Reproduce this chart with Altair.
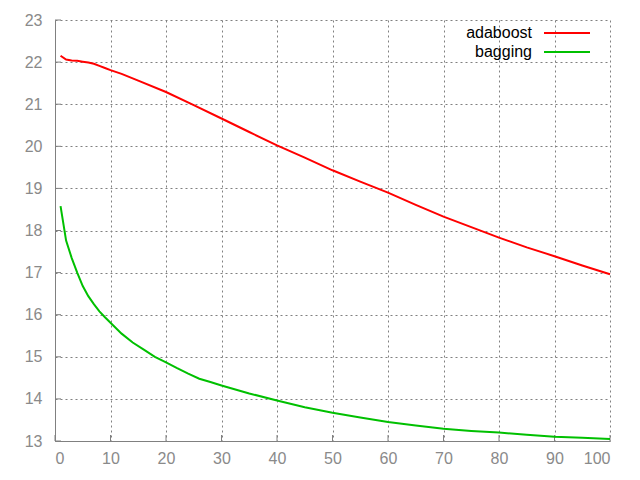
import altair as alt
import pandas as pd

# Series values
ada_x = [1, 2, 3, 4, 5, 6, 7, 8, 9, 10, 12, 15, 20, 25, 30, 35, 40, 45, 50, 55, 60, 65, 70, 75, 80, 85, 90, 95, 100]
ada_y = [22.15, 22.06, 22.04, 22.03, 22.01, 21.99, 21.96, 21.91, 21.86, 21.81, 21.72, 21.56, 21.29, 20.98, 20.66,
         20.34, 20.02, 19.73, 19.43, 19.16, 18.90, 18.61, 18.33, 18.08, 17.83, 17.60, 17.39, 17.17, 16.96]

bag_x = [1, 2, 3, 4, 5, 6, 7, 8, 9, 10, 12, 14, 16, 18, 20, 22, 24, 26, 28, 30, 35, 40, 45, 50, 55, 60, 65, 70,
         75, 80, 85, 90, 95, 100]
bag_y = [18.58, 17.76, 17.35, 17.00, 16.68, 16.44, 16.25, 16.08, 15.94, 15.81, 15.55, 15.34, 15.17, 15.00, 14.87,
         14.73, 14.60, 14.48, 14.40, 14.32, 14.13, 13.96, 13.80, 13.67, 13.56, 13.45, 13.37, 13.29, 13.24, 13.20,
         13.15, 13.10, 13.08, 13.05]

series_names = ["adaboost", "bagging"]
series_colors = ["#ff0000", "#00c000"]
x_ticks = list(range(0, 101, 10))
y_ticks = list(range(13, 24, 1))

df = pd.concat([
    pd.DataFrame({"x": ada_x, "y": ada_y, "series": series_names[0]}),
    pd.DataFrame({"x": bag_x, "y": bag_y, "series": series_names[1]}),
])

FONT = "Liberation Sans"
GRAY = "#808080"

xscale = alt.Scale(domain=[0, 100], nice=False)
yscale = alt.Scale(domain=[13, 23], nice=False, zero=False)

lines = alt.Chart(df).mark_line(strokeWidth=2, interpolate="linear").encode(
    x=alt.X("x:Q", scale=xscale, axis=alt.Axis(values=x_ticks, title=None, format="d")),
    y=alt.Y("y:Q", scale=yscale, axis=alt.Axis(values=y_ticks, title=None, format="d")),
    color=alt.Color("series:N", scale=alt.Scale(domain=series_names, range=series_colors), legend=None),
    detail="series:N",
)

# inward tick marks (gnuplot style)
xtick_marks = alt.Chart(pd.DataFrame({"t": x_ticks})).mark_rule(color=GRAY, strokeWidth=1).encode(
    x=alt.X("t:Q", scale=xscale), y=alt.value(421), y2=alt.value(415))
ytick_marks = alt.Chart(pd.DataFrame({"t": y_ticks})).mark_rule(color=GRAY, strokeWidth=1).encode(
    y=alt.Y("t:Q", scale=yscale), x=alt.value(0), x2=alt.value(6))

one = pd.DataFrame({"a": [0]})
legend_layers = []
for i, (name, col) in enumerate(zip(series_names, series_colors)):
    ypix = 13 + 19 * i
    legend_layers.append(
        alt.Chart(one).mark_text(align="right", baseline="middle", font=FONT, fontSize=16, color="#000000").encode(
            x=alt.value(477), y=alt.value(ypix), text=alt.value(name))
    )
    legend_layers.append(
        alt.Chart(one).mark_rule(color=col, strokeWidth=2).encode(
            x=alt.value(489), x2=alt.value(535), y=alt.value(ypix))
    )

chart = alt.layer(xtick_marks, ytick_marks, lines, *legend_layers).properties(
    width=555, height=421,
    padding={"left": 47, "top": 12, "right": 15, "bottom": 30},
    autosize=alt.AutoSizeParams(type="none"),
).configure_view(stroke=None).configure_axis(
    grid=True,
    gridColor=GRAY,
    gridDash=[2, 3],
    gridWidth=1,
    gridOpacity=1,
    domainColor=GRAY,
    domainWidth=1,
    ticks=False,
    labelColor="#8a8a8a",
    labelFont=FONT,
    labelFontSize=16,
).configure_axisX(labelPadding=9).configure_axisY(labelPadding=13)

chart.save("out.html", embed_options={"renderer": "svg", "actions": False})
